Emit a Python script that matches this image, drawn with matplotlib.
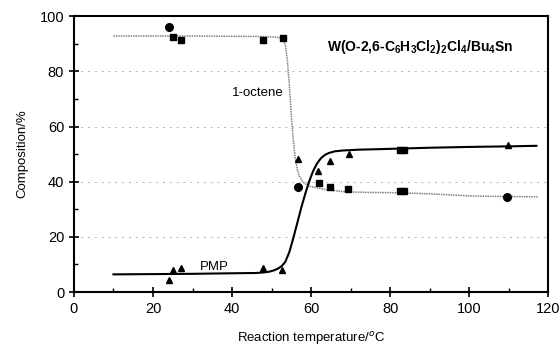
import matplotlib
matplotlib.use('agg')
import matplotlib.pyplot as plt
from matplotlib.ticker import MultipleLocator

plt.rcParams['font.family'] = ['Liberation Sans', 'DejaVu Sans']
plt.rcParams['mathtext.fontset'] = 'custom'
plt.rcParams['mathtext.rm'] = 'Liberation Sans'
plt.rcParams['mathtext.bf'] = 'Liberation Sans:bold'

# measured points, 1-octene (squares / round-looking ones)
oct_sq_x = [25, 27, 47.9, 52.8, 61.9, 64.8, 69.4, 82.5, 83.5]
oct_sq_y = [92.5, 91.3, 91.3, 91.9, 39.4, 38.2, 37.2, 36.7, 36.7]
oct_ci_x = [24.1, 56.6, 109.5]
oct_ci_y = [95.9, 38.2, 34.5]

# measured points, PMP (triangles) + square pair at ~83
pmp_x = [24, 25, 27, 47.9, 52.6, 56.6, 61.8, 64.8, 69.6, 109.8]
pmp_y = [4.3, 8, 8.8, 8.8, 8, 48.1, 44, 47.6, 50, 53.3]
pmp_sq_x = [82.6, 83.6]
pmp_sq_y = [51.5, 51.5]

# fitted curves
oct_curve_x = [10, 20, 30, 40, 48, 51, 52, 53, 53.5, 54, 54.5, 55, 55.5,
               56, 56.5, 57, 58, 59, 60, 62, 64, 69, 75, 81.7, 90, 101,
               110, 117.5]
oct_curve_y = [92.8, 92.8, 92.8, 92.7, 92.6, 92.4, 92.2, 91.2, 89.5, 84,
               75, 64, 55, 48.5, 44.5, 42, 39.8, 38.8, 38.2, 37.6, 37,
               36.3, 36.1, 36, 35.6, 34.8, 34.6, 34.5]
pmp_curve_x = [10, 20, 30, 40, 46, 48, 49.5, 50.5, 51.5, 52.5, 53.5, 54.5,
               55.5, 56.5, 57.5, 58.5, 59.5, 60.5, 61.5, 62.5, 63.5, 64.5,
               66, 68, 72, 77.5, 82.5, 90, 100, 110, 117]
pmp_curve_y = [6.4, 6.5, 6.6, 6.8, 6.9, 7.1, 7.4, 7.8, 8.4, 9.3, 11,
               14.5, 19.5, 25, 30.5, 35.5, 40, 43.8, 46.6, 48.5, 49.7, 50.4,
               51, 51.3, 51.6, 51.8, 52, 52.3, 52.6, 52.8, 53]

fig = plt.figure(figsize=(5.6, 3.51), dpi=100)
ax = fig.add_axes([0.132, 0.168, 0.847, 0.786])

for gy in [20, 40, 60, 80]:
    ax.axhline(gy, color='0.7', lw=0.7, ls=(0, (2, 5)), zorder=0)

ax.plot(oct_curve_x, oct_curve_y, color='0.5', lw=1.1, ls=(0, (1, 0.6)))
ax.plot(pmp_curve_x, pmp_curve_y, color='black', lw=1.5)

ax.plot(oct_sq_x, oct_sq_y, 's', color='black', ms=5)
ax.plot(oct_ci_x, oct_ci_y, 'o', color='black', ms=5.5)
ax.plot(pmp_x, pmp_y, '^', color='black', ms=5)
ax.plot(pmp_sq_x, pmp_sq_y, 's', color='black', ms=5)

ax.text(46.5, 72, '1-octene', ha='center', va='center', fontsize=9.5)
ax.text(35.6, 6.9, 'PMP', ha='center', va='bottom', fontsize=9.5)
ax.text(64, 88.8, r'W(O-2,6-C$_\mathbf{6}$H$_\mathbf{3}$Cl$_\mathbf{2}$)$_\mathbf{2}$Cl$_\mathbf{4}$/Bu$_\mathbf{4}$Sn',
        ha='left', va='center', fontsize=10, fontweight='bold')

ax.set_xlim(0, 120)
ax.set_ylim(0, 100)
ax.xaxis.set_major_locator(MultipleLocator(20))
ax.xaxis.set_minor_locator(MultipleLocator(10))
ax.yaxis.set_major_locator(MultipleLocator(20))
ax.yaxis.set_minor_locator(MultipleLocator(10))
ax.tick_params(which='major', direction='inout', length=7, width=1.2, labelsize=10.5)
ax.tick_params(which='minor', direction='in', length=3, width=1)
for s in ax.spines.values():
    s.set_linewidth(1.5)

ax.set_xlabel(r'Reaction temperature/$^o$C', fontsize=9.5, labelpad=10)
ax.set_ylabel('Composition/%', fontsize=9.5, labelpad=8)

fig.savefig('out.png', dpi=100)
